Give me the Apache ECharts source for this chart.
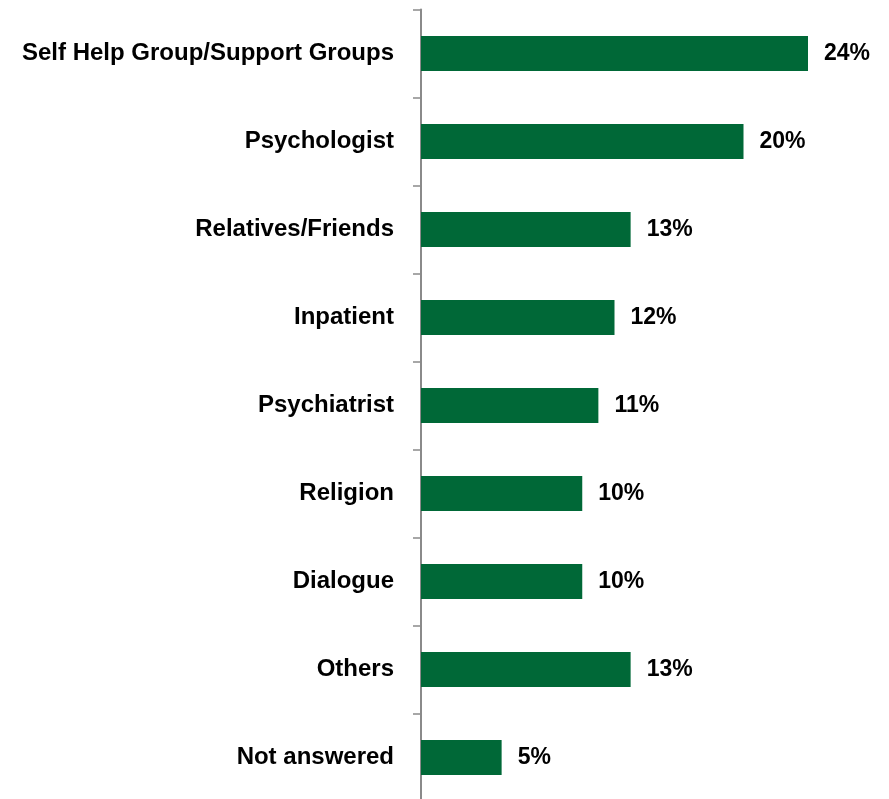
<!DOCTYPE html>
<html>
<head>
<meta charset="utf-8">
<script src="https://cdn.jsdelivr.net/npm/echarts@6/dist/echarts.min.js"></script>
<style>
html,body{margin:0;padding:0;background:#fff;}
#chart{width:889px;height:799px;}
</style>
</head>
<body>
<div id="chart"></div>
<script>
const categories = ["Self Help Group/Support Groups","Psychologist","Relatives/Friends","Inpatient","Psychiatrist","Religion","Dialogue","Others","Not answered"];
const values = [24,20,13,12,11,10,10,13,5];

const chart = echarts.init(document.getElementById('chart'), null, {renderer:'canvas'});
chart.setOption({
  animation:false,
  backgroundColor:'#ffffff',
  grid:{left:421, top:9.5, width:387, height:792, outerBoundsMode:'none', containLabel:false},
  xAxis:{type:'value', min:0, max:24, show:false},
  yAxis:{
    type:'category', data:categories, inverse:true,
    axisLine:{show:true, lineStyle:{color:'#8a8a8a', width:2}},
    axisTick:{show:true, length:8, lineStyle:{color:'#8a8a8a', width:1.5}},
    axisLabel:{margin:27, color:'#000', fontFamily:'Liberation Sans', fontWeight:'bold', fontSize:24}
  },
  series:[{
    type:'bar', data:values, barWidth:35,
    itemStyle:{color:'#006837'},
    label:{show:true, position:'right', distance:16, formatter:'{c}%', color:'#000', fontFamily:'Liberation Sans', fontWeight:'bold', fontSize:23}
  }]
});
</script>
</body>
</html>
